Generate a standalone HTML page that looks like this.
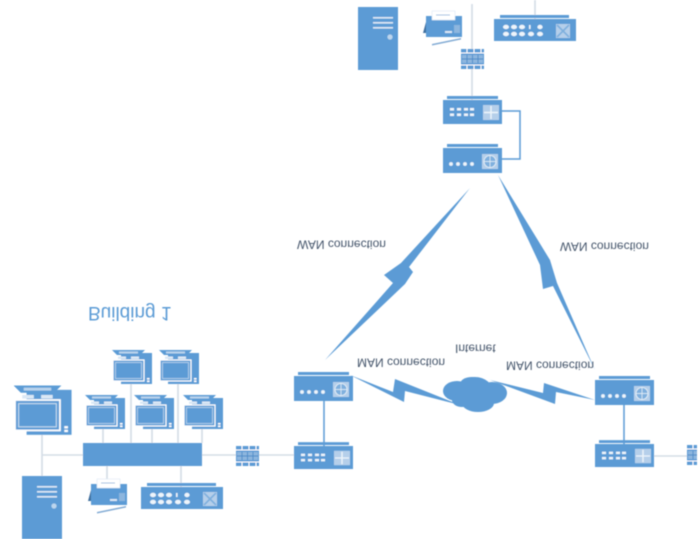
<!DOCTYPE html>
<html><head><meta charset="utf-8"><style>
html,body{margin:0;padding:0;background:#fff;width:700px;height:550px;overflow:hidden}
svg{display:block}
text{font-family:"Liberation Sans",sans-serif;font-size:12px;fill:#44546a}
</style></head><body>
<svg width="700" height="550" viewBox="0 0 700 550" xmlns="http://www.w3.org/2000/svg">
<defs>
<filter id="b" x="0" y="0" width="100%" height="100%"><feGaussianBlur stdDeviation="0.65"/></filter>
<g id="pc">
<rect x="8" y="-7" width="31" height="31" fill="#5b9bd5"/>
<rect x="0" y="0" width="31" height="21" fill="#5b9bd5" stroke="#fff" stroke-width="1.2"/>
<rect x="2.500" y="2.500" width="26" height="16" fill="#5b9bd5" stroke="#cfe0f1" stroke-width=".7"/>
<rect x="34" y="18" width="2.500" height="1.600" fill="#fff"/><rect x="34" y="20.500" width="2.500" height="1.600" fill="#fff"/>
<polygon points="-1,-10 32,-10 27,-5 4,-5" fill="#5b9bd5"/>
<rect x="6" y="-8.500" width="19" height="2" fill="#b9d3ec"/>
<rect x="5" y="-3.500" width="8" height="2.500" fill="#dbe8f5"/><rect x="18" y="-3.500" width="8" height="2.500" fill="#dbe8f5"/>
</g>
<g id="server">
<rect width="40" height="63" fill="#5b9bd5"/>
<rect x="15" y="10" width="20" height="1.600" fill="#dbe8f5"/><rect x="15" y="15" width="20" height="1.600" fill="#dbe8f5"/><rect x="15" y="20" width="20" height="1.600" fill="#dbe8f5"/>
<circle cx="32" cy="30" r="2.600" fill="#bcd5ed"/>
</g>
<g id="fax">
<polygon points="-3,22 0,11 0,22" fill="#3f6f9f"/>
<rect x="0" y="5" width="36" height="21" fill="#5b9bd5"/>
<rect x="6" y="0" width="23" height="9" fill="#fff" stroke="#dbe8f5" stroke-width=".6"/>
<rect x="10" y="3.500" width="14" height="1" fill="#9dbfe0"/>
<rect x="19" y="20" width="7" height="2" fill="#dbe8f5"/><rect x="28" y="14" width="6" height="8" fill="#8db6de"/>
<polygon points="6,33 35,27 35,28.500 6,34.500" fill="#7fa9d3"/>
</g>
<g id="sw">
<rect x="6" y="-4" width="69" height="3" fill="#5b9bd5"/>
<rect width="82" height="22" fill="#5b9bd5"/>
<g fill="#eef5fb"><ellipse cx="12" cy="8" rx="3" ry="2.200"/><ellipse cx="20" cy="8" rx="3" ry="2.200"/><ellipse cx="28" cy="8" rx="3" ry="2.200"/><rect x="35" y="6" width="1.600" height="4"/><ellipse cx="46" cy="8" rx="2.600" ry="2.200"/>
<ellipse cx="12" cy="15" rx="3" ry="2.200"/><ellipse cx="20" cy="15" rx="3" ry="2.200"/><ellipse cx="28" cy="15" rx="3" ry="2.200"/><ellipse cx="37" cy="15" rx="3" ry="2.200"/><ellipse cx="46" cy="15" rx="3" ry="2.200"/></g>
<rect x="62" y="5" width="14" height="14" fill="#b5cfea"/>
<path d="M63 6l12 12M75 6l-12 12" stroke="#7fb0de" stroke-width="1.800"/>
</g>
<g id="rtA">
<rect x="4" y="-4" width="51" height="3" fill="#5b9bd5"/>
<rect width="59" height="24" fill="#5b9bd5"/>
<g fill="#eef5fb"><rect x="7" y="8" width="4" height="2.500"/><rect x="14" y="8" width="4" height="2.500"/><rect x="21" y="8" width="4" height="2.500"/><rect x="27" y="8" width="4" height="2.500"/>
<rect x="7" y="13.500" width="4" height="2.500"/><rect x="14" y="13.500" width="4" height="2.500"/><rect x="21" y="13.500" width="4" height="2.500"/><rect x="27" y="13.500" width="4" height="2.500"/></g>
<rect x="40" y="5" width="16" height="15" fill="#b5cfea"/>
<path d="M48 6v13M41 12.500h14" stroke="#eef5fb" stroke-width="1.400"/>
</g>
<g id="rtB">
<rect x="4" y="-4" width="51" height="3" fill="#5b9bd5"/>
<rect width="59" height="25" fill="#5b9bd5"/>
<g fill="#eef5fb"><circle cx="8" cy="16" r="1.900"/><circle cx="15" cy="16" r="1.900"/><circle cx="22" cy="16" r="1.900"/><circle cx="29" cy="16" r="1.900"/></g>
<rect x="39" y="6" width="16" height="15" fill="#b5cfea"/>
<circle cx="47" cy="13.500" r="6" fill="#7fb0de" stroke="#eef5fb" stroke-width=".8"/>
<path d="M41 13.500h12M47 7.500v12" stroke="#eef5fb" stroke-width=".7"/>
</g>
<g id="fw">
<rect width="23" height="20" fill="#5b9bd5"/>
<path d="M0 4h23M0 16h23M6 0v4M13 0v4M20 0v4M6 16v4M13 16v4M20 16v4" stroke="#fff" stroke-width="1"/>
<rect x="1" y="6" width="21" height="8" fill="#8db6de"/>
<path d="M6 6v8M11.500 6v8M17 6v8M1 10h21" stroke="#4b8bc8" stroke-width=".9"/>
</g>
</defs>
<rect width="700" height="550" fill="#fff"/>
<g filter="url(#b)">
<g stroke="#d4dde6" stroke-width="1.600" fill="none">
<path d="M42 431V476M42 455H83M202 455H295M103 425V443M131 381V443M152 425V443M178 381V443M202 425V443M107 466V480M181 466V487"/>
<path d="M472 4V105M535 0V20M653 456H688"/>
</g>
<g stroke="#5b9bd5" stroke-width="1.500" fill="none">
<path d="M324 401V447M624 405V445M502 111H520V159H502"/>
</g>
<use href="#pc" transform="translate(15,400) scale(1.45)"/>
<use href="#pc" transform="translate(113,360)"/>
<use href="#pc" transform="translate(160,360)"/>
<use href="#pc" transform="translate(86,405)"/>
<use href="#pc" transform="translate(135,405)"/>
<use href="#pc" transform="translate(184,405)"/>
<rect x="83" y="443" width="119" height="23" fill="#5b9bd5"/>
<use href="#server" transform="translate(22,476)"/>
<use href="#server" transform="translate(358,7)"/>
<use href="#fax" transform="translate(91,479)"/>
<use href="#fax" transform="translate(426,11)"/>
<use href="#sw" transform="translate(141,487)"/>
<use href="#sw" transform="translate(494,19)"/>
<use href="#fw" transform="translate(236,446)"/>
<use href="#fw" transform="translate(461,49)"/>
<svg x="687" y="445" width="10" height="20" viewBox="0 0 10 20"><use href="#fw"/></svg>
<use href="#rtA" transform="translate(443,100)"/>
<use href="#rtB" transform="translate(443,148)"/>
<use href="#rtB" transform="translate(294,376)"/>
<use href="#rtA" transform="translate(294,446) scale(1,.96)"/>
<use href="#rtB" transform="translate(595,380)"/>
<use href="#rtA" transform="translate(595,444) scale(1,.96)"/>
<g fill="#5b9bd5">
<ellipse cx="475" cy="392" rx="18" ry="15"/>
<ellipse cx="457" cy="391" rx="14" ry="10"/>
<ellipse cx="492" cy="393" rx="15" ry="11"/>
<ellipse cx="478" cy="403" rx="16" ry="9"/>
<ellipse cx="462" cy="400" rx="10" ry="7"/>
<ellipse cx="472" cy="384" rx="12" ry="7"/>
</g>
<g fill="#5b9bd5">
<polygon points="350,375 393,392 395,379 460,405 405,391 404,402"/>
<polygon points="490,380 543,393 544,383 595,400 556,392 555,404"/>
<polygon points="470,188 401,263 384,275 393,283 325,360 405,284 413,272 409,267"/>
<polygon points="498,175 540,265 543,289 553,286 595,370 557,283 550,260"/>
</g>
<text transform="translate(297,240.500) scale(1,-1)">WAN connection</text>
<text transform="translate(560,242.500) scale(1,-1)">WAN connection</text>
<text transform="translate(357,358.500) scale(1,-1)">MAN connection</text>
<text transform="translate(506,361.500) scale(1,-1)">MAN connection</text>
<text transform="translate(455,344.500) scale(1,-1)">Internet</text>
<text transform="translate(88,307) scale(1,-1)" style="font-size:19px;fill:#5b9bd5">Building 1</text>
</g>
</svg>
</body></html>
